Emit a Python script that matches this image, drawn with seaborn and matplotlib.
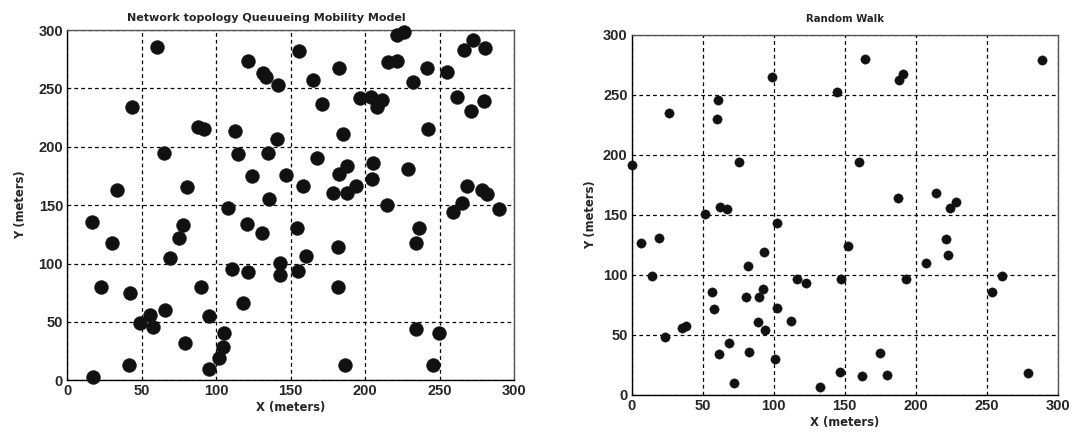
import matplotlib

matplotlib.use("Agg")

import matplotlib.pyplot as plt
import pandas as pd
import seaborn as sns

# node positions, queueing mobility model (left panel)
queue_x = [60.0, 121.4, 131.6, 133.5, 141.7, 155.6, 43.2, 88.0, 91.8, 112.6,
           140.7, 65.2, 114.4, 134.5, 123.8, 146.8, 158.1, 33.2, 80.2, 135.3,
           108.2, 221.2, 226.1, 182.7, 164.8, 215.6, 221.2, 241.4, 232.4, 255.2,
           272.7, 266.6, 280.5, 171.3, 196.6, 203.8, 211.1, 207.8, 261.5, 279.8,
           270.9, 242.0, 185.4, 167.9, 187.6, 182.7, 205.1, 229.0, 204.4, 178.6,
           187.6, 193.9, 214.9, 268.2, 278.3, 282.1, 264.9, 258.8, 290.1, 16.4,
           29.8, 77.5, 75.0, 69.0, 120.5, 131.0, 154.5, 160.3, 142.8, 142.8,
           155.1, 110.8, 121.1, 118.2, 22.6, 42.1, 89.8, 65.6, 55.5, 48.8,
           57.8, 95.2, 105.5, 104.8, 102.1, 95.2, 79.2, 41.6, 17.0, 181.6,
           181.6, 236.2, 234.2, 234.2, 249.8, 186.3, 245.4]
queue_y = [285.2, 273.3, 262.9, 259.5, 252.9, 282.0, 234.3, 216.7, 215.2, 213.5,
           206.6, 195.0, 194.1, 194.4, 175.2, 176.1, 166.4, 162.7, 165.3, 155.5,
           147.8, 295.7, 298.5, 267.7, 257.2, 272.3, 273.7, 267.7, 255.7, 264.3,
           291.4, 282.9, 284.3, 236.4, 241.5, 242.9, 240.0, 233.8, 242.3, 239.2,
           230.6, 215.5, 210.9, 190.6, 183.5, 176.4, 185.8, 181.0, 172.4, 160.7,
           160.7, 166.4, 150.5, 166.6, 163.0, 159.5, 151.5, 144.4, 147.0, 135.3,
           117.3, 133.0, 121.6, 105.0, 133.9, 125.9, 130.2, 106.4, 100.2, 90.2,
           93.6, 95.3, 92.5, 66.5, 80.2, 75.0, 80.2, 60.2, 55.9, 48.8,
           45.4, 55.1, 40.2, 28.3, 19.4, 9.4, 32.2, 13.1, 3.1, 114.4,
           79.6, 130.2, 117.3, 43.7, 40.8, 13.1, 13.1]

# node positions, random walk (right panel)
walk_x = [98.6, 144.4, 61.0, 26.1, 60.1, 0.0, 75.8, 62.2, 67.3, 51.6,
          102.1, 164.3, 191.3, 188.5, 288.7, 160.3, 187.3, 214.3, 228.4, 224.2,
          6.5, 19.5, 14.5, 23.5, 35.2, 38.2, 56.8, 57.7, 82.1, 93.2,
          80.3, 89.9, 92.7, 102.1, 88.7, 94.1, 112.0, 68.7, 61.7, 82.8,
          100.9, 71.8, 116.2, 122.5, 147.4, 152.5, 146.7, 132.6, 193.2, 221.1,
          223.0, 207.3, 260.6, 253.5, 174.9, 162.4, 179.6, 279.3]
walk_y = [265.3, 252.8, 245.8, 234.7, 230.0, 191.7, 193.9, 156.9, 154.7, 150.6,
          143.6, 280.0, 267.2, 262.5, 279.2, 194.4, 164.4, 168.0, 161.1, 155.6,
          126.9, 131.1, 99.4, 48.6, 56.1, 57.5, 85.6, 71.4, 107.5, 118.9,
          81.9, 81.9, 88.3, 72.2, 61.1, 54.2, 61.9, 43.6, 33.9, 35.6,
          29.7, 10.3, 96.9, 93.1, 96.9, 124.2, 18.9, 6.9, 96.4, 130.3,
          116.4, 110.3, 99.4, 85.6, 34.7, 15.6, 16.4, 18.1]

TICKS = [0, 50, 100, 150, 200, 250, 300]
LABEL_FONT = ["DejaVu Sans"]


def style_axes(ax, title, title_x, title_size, title_pad, ypad):
    ax.set_xlim(0, 300)
    ax.set_ylim(0, 300)
    ax.set_xticks(TICKS)
    ax.set_yticks(TICKS)
    ax.grid(True, color="black", linestyle=(0, (3, 2.5)), linewidth=0.9)
    ax.set_axisbelow(True)
    ax.tick_params(direction="in", length=4, width=0.8, labelsize=10.5, pad=3)
    for lab in ax.get_xticklabels() + ax.get_yticklabels():
        lab.set_fontweight("bold")
    for name, sp in ax.spines.items():
        sp.set_visible(True)
        sp.set_linewidth(1.0)
        sp.set_color("black" if name in ("left", "bottom") else "#555555")
    ax.set_title(title, fontsize=title_size, fontweight="bold", x=title_x,
                 pad=title_pad, family=LABEL_FONT)
    ax.set_xlabel("X (meters)", fontsize=8.4, fontweight="bold", labelpad=2,
                  family=LABEL_FONT)
    ax.set_ylabel("Y (meters)", fontsize=8.4, fontweight="bold", labelpad=ypad,
                  family=LABEL_FONT)


def main() -> None:
    sns.set_theme(style="white")
    plt.rcParams["font.family"] = ["Liberation Sans", "DejaVu Sans"]

    fig = plt.figure(figsize=(10.73, 4.34), dpi=100)
    ax1 = fig.add_axes([0.0627, 0.1237, 0.4163, 0.8071])
    ax2 = fig.add_axes([0.5887, 0.0899, 0.3970, 0.8295])

    left = pd.DataFrame({"x": queue_x, "y": queue_y})
    right = pd.DataFrame({"x": walk_x, "y": walk_y})

    sns.scatterplot(data=left, x="x", y="y", ax=ax1, s=100, color="#111111",
                    edgecolor="#111111", linewidth=0.3, clip_on=False, zorder=3)
    sns.scatterplot(data=right, x="x", y="y", ax=ax2, s=45, color="#111111",
                    edgecolor="#111111", linewidth=0.3, clip_on=False, zorder=3)

    style_axes(ax1, "Network topology Queuueing Mobility Model", 0.445, 8.0, 6.5, 8)
    style_axes(ax2, "Random Walk", 0.5, 7.3, 9, 4)

    fig.savefig("out.png", dpi=100)
    plt.close(fig)


if __name__ == "__main__":
    main()
